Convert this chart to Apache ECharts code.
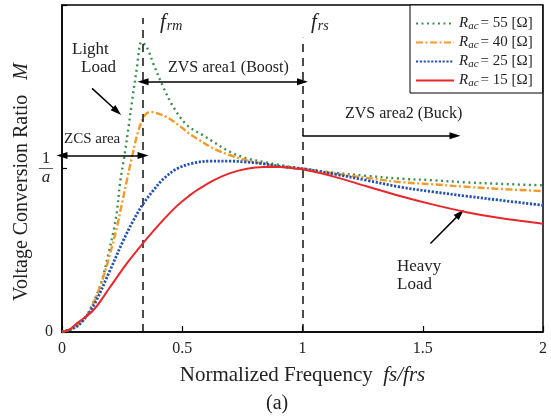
<!DOCTYPE html>
<html><head><meta charset="utf-8">
<script src="https://cdn.jsdelivr.net/npm/echarts@6/dist/echarts.min.js"></script>
<style>html,body{margin:0;padding:0;background:#fff}#c{width:551px;height:420px}</style>
</head><body><div id="c"></div>
<script>
// ---- data ----
const xTicks = [0, 0.5, 1, 1.5, 2];
const legendValues = ['55', '40', '25', '15'];

const r55X = [0, 0.04, 0.089, 0.13, 0.166, 0.193, 0.214, 0.229, 0.241, 0.262, 0.276, 0.291, 0.311, 0.331, 0.352, 0.38, 0.421, 0.463, 0.52, 0.59, 0.63, 0.70, 0.77, 0.84, 0.91, 1.0, 1.127, 1.267, 1.405, 1.544, 1.682, 1.821, 2.0];
const r55Y = [0, 0.02, 0.075, 0.18, 0.316, 0.479, 0.615, 0.744, 0.909, 1.10, 1.246, 1.408, 1.611, 1.774, 1.743, 1.641, 1.498, 1.376, 1.265, 1.20, 1.162, 1.101, 1.061, 1.04, 1.02, 1.0, 0.975, 0.955, 0.938, 0.928, 0.915, 0.906, 0.897];

const r40X = [0, 0.04, 0.089, 0.13, 0.172, 0.2, 0.229, 0.249, 0.27, 0.291, 0.318, 0.345, 0.366, 0.387, 0.435, 0.491, 0.532, 0.561, 0.63, 0.699, 0.769, 0.838, 0.906, 1.0, 1.127, 1.267, 1.405, 1.544, 1.682, 1.821, 2.0];
const r40Y = [0, 0.02, 0.072, 0.174, 0.337, 0.479, 0.644, 0.785, 0.93, 1.07, 1.234, 1.326, 1.345, 1.342, 1.315, 1.258, 1.21, 1.183, 1.122, 1.081, 1.05, 1.03, 1.013, 1.0, 0.97, 0.943, 0.917, 0.903, 0.888, 0.875, 0.862];

const r25X = [0, 0.04, 0.075, 0.13, 0.2, 0.255, 0.297, 0.338, 0.38, 0.422, 0.477, 0.546, 0.615, 0.699, 0.769, 0.838, 0.906, 1.0, 1.127, 1.267, 1.405, 1.544, 1.682, 1.821, 2.0];
const r25Y = [0, 0.018, 0.05, 0.158, 0.378, 0.56, 0.683, 0.785, 0.866, 0.937, 0.998, 1.033, 1.045, 1.045, 1.039, 1.029, 1.013, 0.998, 0.967, 0.928, 0.887, 0.857, 0.831, 0.806, 0.775];

const r15X = [0, 0.03, 0.061, 0.13, 0.2, 0.269, 0.338, 0.407, 0.477, 0.532, 0.561, 0.63, 0.699, 0.769, 0.838, 0.906, 0.976, 1.0, 1.127, 1.267, 1.405, 1.544, 1.682, 1.821, 2.0];
const r15Y = [0, 0.014, 0.052, 0.133, 0.275, 0.418, 0.545, 0.663, 0.77, 0.837, 0.867, 0.928, 0.972, 0.999, 1.009, 1.009, 0.999, 0.995, 0.952, 0.891, 0.832, 0.779, 0.733, 0.697, 0.662];

const fRm = 0.337, fRs = 1.0;

// ---- build chart ----
const SERIF = 'Liberation Serif, Times New Roman, serif';
const pairs = (xs, ys) => xs.map((x, i) => [x, ys[i]]);
const names = legendValues.map(v => 'R' + v);

const ann = (a, b, s1, s2, extra) => [
  Object.assign({coord: a, symbol: s1}, extra || {}),
  {coord: b, symbol: s2}
];
const arrowStyle = {lineStyle: {color: '#000', width: 1.5, type: 'solid'}};
const vdash = {lineStyle: {color: '#111', width: 1.5, type: [8, 6]}};

const chart = echarts.init(document.getElementById('c'), null, {renderer: 'canvas'});
chart.setOption({
  animation: false,
  backgroundColor: '#fff',
  textStyle: {fontFamily: SERIF, color: '#222'},
  grid: {left: 62, right: 8, top: 5, bottom: 88, show: true, borderColor: '#000', borderWidth: 1.5, containLabel: false},
  legend: {
    data: names, orient: 'vertical', left: 410, top: 5,
    padding: [11, 10, 4, 5], itemGap: 3, itemWidth: 38, itemHeight: 14,
    backgroundColor: '#fff', borderColor: '#000', borderWidth: 1,
    itemStyle: {opacity: 0},
    formatter: n => '{i|R}{s|ac}{t|= ' + n.slice(1) + ' [Ω]}',
    textStyle: {
      fontFamily: SERIF, lineHeight: 14,
      rich: {
        i: {fontFamily: SERIF, fontStyle: 'italic', fontSize: 15, color: '#222'},
        s: {fontFamily: SERIF, fontStyle: 'italic', fontSize: 11, color: '#222', padding: [6, 2, 0, 0]},
        t: {fontFamily: SERIF, fontSize: 15, color: '#222'}
      }
    }
  },
  xAxis: {
    type: 'value', min: 0, max: 2, interval: 0.5,
    name: '{t|Normalized Frequency  }{i|fs/frs}', nameLocation: 'middle', nameGap: 33,
    nameTextStyle: {rich: {
      t: {fontFamily: SERIF, fontSize: 21, color: '#222'},
      i: {fontFamily: SERIF, fontSize: 21, fontStyle: 'italic', color: '#222'}
    }},
    axisLine: {lineStyle: {color: '#000', width: 1.5}},
    axisTick: {inside: true, length: 6, lineStyle: {color: '#000', width: 1.2}},
    axisLabel: {fontFamily: SERIF, fontSize: 16, color: '#222', margin: 9,
      formatter: v => xTicks.indexOf(v) >= 0 ? String(v) : ''},
    splitLine: {show: false}
  },
  yAxis: {
    type: 'value', min: 0, max: 2, interval: 1,
    axisLine: {lineStyle: {color: '#000', width: 1.5}},
    axisTick: {inside: true, length: 5, lineStyle: {color: '#000', width: 1.2}},
    axisLabel: {fontFamily: SERIF, fontSize: 16, color: '#222', margin: 9,
      formatter: v => v === 0 ? '0' : (v === 1 ? '{n|1}\n{b|—}\n{d|a}' : ''),
      rich: {
        n: {fontFamily: SERIF, fontSize: 16, color: '#222', lineHeight: 14, align: 'center'},
        b: {fontFamily: SERIF, fontSize: 14, color: '#222', lineHeight: 5, align: 'center'},
        d: {fontFamily: SERIF, fontSize: 17, fontStyle: 'italic', color: '#222', lineHeight: 14, align: 'center'}
      }
    },
    splitLine: {show: false}
  },
  series: [
    {name: names[0], type: 'line', smooth: 0.35, symbol: 'none', data: pairs(r55X, r55Y),
      lineStyle: {color: '#3f8f55', width: 2.4, type: [2, 3.5]}, itemStyle: {color: '#3f8f55'}, z: 3},
    {name: names[1], type: 'line', smooth: 0.35, symbol: 'none', data: pairs(r40X, r40Y),
      lineStyle: {color: '#f59a2a', width: 2.4, type: [7, 2.5, 2, 2.5]}, itemStyle: {color: '#f59a2a'}, z: 4},
    {name: names[2], type: 'line', smooth: 0.35, symbol: 'none', data: pairs(r25X, r25Y),
      lineStyle: {color: '#2352b0', width: 2.8, type: [2.2, 1.6]}, itemStyle: {color: '#2352b0'}, z: 5},
    {name: names[3], type: 'line', smooth: 0.35, symbol: 'none', data: pairs(r15X, r15Y),
      lineStyle: {color: '#e8272c', width: 2, type: 'solid'}, itemStyle: {color: '#e8272c'}, z: 6,
      markLine: {
        silent: true, animation: false, symbolSize: [7, 11],
        label: {show: false},
        data: [
          ann([fRm, 0], [fRm, 1.92], 'none', 'none', vdash),
          ann([fRs, 0], [fRs, 1.8], 'none', 'none', vdash),
          ann([0, 1.08], [fRm, 1.08], 'triangle', 'triangle', arrowStyle),
          ann([fRm, 1.53], [fRs, 1.53], 'triangle', 'triangle', arrowStyle),
          ann([fRs, 1.2], [1.634, 1.2], 'none', 'triangle', arrowStyle),
          ann([0.125, 1.49], [0.229, 1.35], 'none', 'triangle', arrowStyle),
          ann([1.532, 0.541], [1.655, 0.724], 'none', 'triangle', arrowStyle)
        ]
      }}
  ],
  graphic: [
    {type: 'text', x: 22, y: 182, rotation: Math.PI / 2, style: {
      text: '{t|Voltage Conversion Ratio   }{i|M}', align: 'center', verticalAlign: 'middle',
      rich: {
        t: {fontFamily: SERIF, fontSize: 20, fill: '#222'},
        i: {fontFamily: SERIF, fontSize: 20, fontStyle: 'italic', fill: '#222'}
      }}},
    {type: 'text', left: 72, top: 41, style: {text: 'Light', font: '17px ' + SERIF, fill: '#222'}},
    {type: 'text', left: 81, top: 59, style: {text: 'Load', font: '17px ' + SERIF, fill: '#222'}},
    {type: 'text', left: 64, top: 132, style: {text: 'ZCS area', font: '15px ' + SERIF, fill: '#222'}},
    {type: 'text', left: 168, top: 60, style: {text: 'ZVS area1 (Boost)', font: '16px ' + SERIF, fill: '#222'}},
    {type: 'text', left: 345, top: 106, style: {text: 'ZVS area2 (Buck)', font: '16px ' + SERIF, fill: '#222'}},
    {type: 'text', left: 397, top: 258, style: {text: 'Heavy', font: '17px ' + SERIF, fill: '#222'}},
    {type: 'text', left: 397, top: 276, style: {text: 'Load', font: '17px ' + SERIF, fill: '#222'}},
    {type: 'text', left: 160, top: 12, style: {text: '{f|f}{s|rm}', rich: {
      f: {fontFamily: SERIF, fontStyle: 'italic', fontSize: 21, fill: '#222'},
      s: {fontFamily: SERIF, fontStyle: 'italic', fontSize: 14, fill: '#222', padding: [8, 0, 0, 1]}}}},
    {type: 'text', left: 311, top: 12, style: {text: '{f|f}{s|rs}', rich: {
      f: {fontFamily: SERIF, fontStyle: 'italic', fontSize: 21, fill: '#222'},
      s: {fontFamily: SERIF, fontStyle: 'italic', fontSize: 14, fill: '#222', padding: [8, 0, 0, 1]}}}},
    {type: 'text', left: 266, top: 394, style: {text: '(a)', font: '20px ' + SERIF, fill: '#222'}}
  ]
});
</script></body></html>
